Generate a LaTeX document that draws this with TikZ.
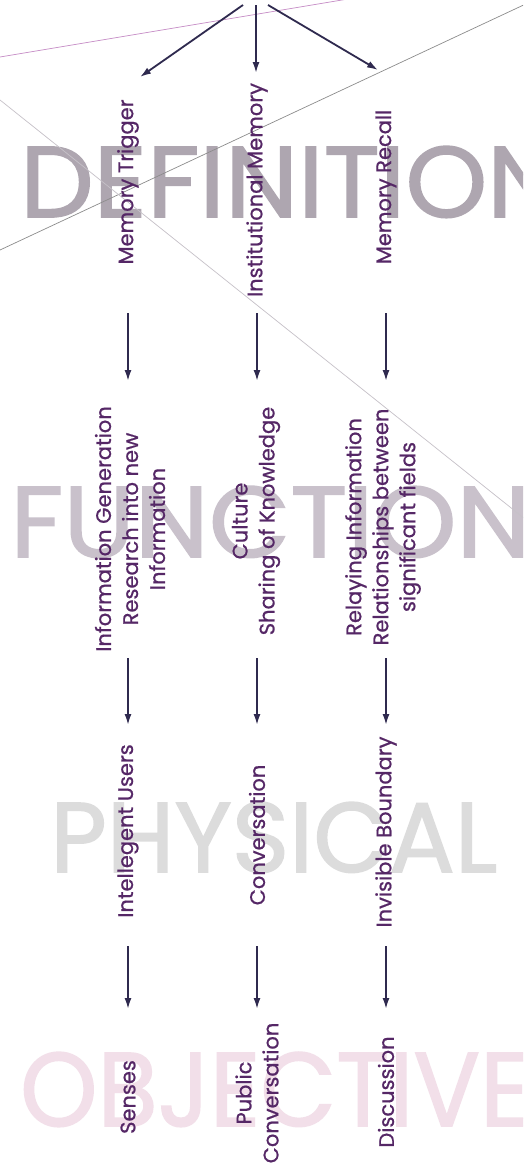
\documentclass[tikz,border=0pt]{standalone}
\usepackage{fontspec}
\setmainfont{Poppins}
\newfontfamily\lblfont[FakeBold=0.7]{Poppins}
\newfontfamily\wordfont[FakeBold=1.5]{Poppins}
\usetikzlibrary{arrows.meta}

\definecolor{inkpurple}{HTML}{552766}
\definecolor{arrowink}{HTML}{2F2A4F}
\definecolor{defgray}{HTML}{AEA6B0}
\definecolor{fungray}{HTML}{C9C1CB}
\definecolor{phygray}{HTML}{DCDCDC}
\definecolor{objpink}{HTML}{F2DFE9}

\newcommand{\stretchword}[3]{\resizebox{#1}{#2}{\wordfont #3}}

\tikzset{
  lbl/.style={rotate=90,inner sep=0pt,align=center,text=inkpurple,font=\lblfont\fontsize{21}{27}\selectfont},
  flow/.style={draw=arrowink,line width=1.8pt,-{Latex[length=11pt,width=7pt]}},
  bigword/.style={anchor=south west,inner sep=0pt},
  hairline/.style={line width=0.7pt}
}

\begin{document}
\begin{tikzpicture}[x=1pt,y=-1pt]
\clip (0,0) rectangle (523,1167);
\fill[white] (0,0) rectangle (523,1167);

% background words
\node[bigword,text=defgray] (defword) at (20,218) {\stretchword{540pt}{71pt}{DEFINITION}};
\node[bigword,text=fungray] (funword) at (10,558) {\stretchword{520pt}{71pt}{FUNCTION}};
\node[bigword,text=phygray] (phyword) at (50,873) {\stretchword{447pt}{70pt}{PHYSICAL}};
\node[bigword,text=objpink] (objword) at (20,1127) {\stretchword{510pt}{74pt}{OBJECTIVE}};

% thin crossing lines
\draw[hairline,color=black!45] (0,250) -- (530,2);
\draw[hairline,color=violet!45] (0,57) -- (360,-3);
\draw[hairline,color=defgray!70] (0,100) -- (530,523);

% definition row
\node[lbl] (trigger) at (128,182) {Memory Trigger};
\node[lbl] (instmem) at (257,190) {Institutional Memory};
\node[lbl] (recall) at (386,187) {Memory Recall};

% function row
\node[lbl] (infogen) at (130,529) {Information Generation\\Research into new\\Information};
\node[lbl] (culture) at (256,521) {Culture\\Sharing of Knowledge};
\node[lbl] (relay) at (383,527) {Relaying Information\\Relationships between\\significant fields};

% physical row
\node[lbl] (users) at (128,831) {Intellegent Users};
\node[lbl] (conv) at (257,835) {Conversation};
\node[lbl] (boundary) at (386,832) {Invisible Boundary};

% objective row
\node[lbl] (senses) at (128,1097) {Senses};
\node[lbl] (pubconv) at (257,1093) {Public\\Conversation};
\node[lbl] (discuss) at (386,1092) {Discussion};

% top arrows
\coordinate (t1) at (243,5);
\coordinate (t2) at (256,5);
\coordinate (t3) at (268,5);
\coordinate (h1) at (140,77);
\coordinate (h2) at (256,73);
\coordinate (h3) at (378,70);
\draw[flow] (t1) -- (h1);
\draw[flow] (t2) -- (h2);
\draw[flow] (t3) -- (h3);

% row arrows
\coordinate (r2a) at (0,313);
\coordinate (r2b) at (0,381);
\coordinate (r3a) at (0,658);
\coordinate (r3b) at (0,725);
\coordinate (r4a) at (0,946);
\coordinate (r4b) at (0,1009);
\foreach \col in {trigger,instmem,recall}{
  \draw[flow] (\col |- r2a) -- (\col |- r2b);
  \draw[flow] (\col |- r3a) -- (\col |- r3b);
  \draw[flow] (\col |- r4a) -- (\col |- r4b);
}
\end{tikzpicture}
\end{document}
